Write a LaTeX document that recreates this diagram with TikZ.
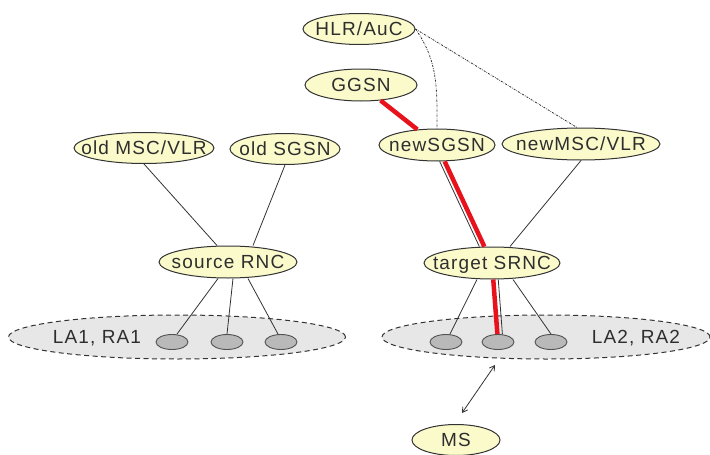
\documentclass[tikz,border=0pt]{standalone}
\usepackage{fontspec}
\setmainfont[LetterSpace=6]{Liberation Sans}
\usetikzlibrary{shapes.geometric,arrows.meta}

\definecolor{nodefill}{HTML}{FBFACB}
\definecolor{nodeline}{HTML}{333333}
\definecolor{cellfill}{HTML}{B9B9B9}
\definecolor{areafill}{HTML}{E7E7E7}
\definecolor{pathred}{HTML}{E8121C}
\definecolor{txt}{HTML}{2E2E2E}

\tikzset{
  netnode/.style={ellipse, draw=nodeline, fill=nodefill, line width=1pt, inner sep=0pt},
  cell/.style={ellipse, draw=nodeline!85, fill=cellfill, line width=0.9pt, inner sep=0pt,
               minimum width=32pt, minimum height=15pt},
  area/.style={ellipse, draw=nodeline, fill=areafill, line width=1pt, inner sep=0pt,
               dash pattern=on 5pt off 3.5pt},
  every label/.style={font=\fontsize{19}{21}\selectfont, text=txt,
                      text height=13.5pt, text depth=0pt, inner sep=0pt},
  link/.style={draw=nodeline, line width=0.8pt},
  sig/.style={draw=nodeline, line width=0.8pt, dash pattern=on 2pt off 1.2pt on 0.6pt off 1.2pt},
  userpath/.style={draw=pathred, line width=4.5pt},
}

\begin{document}
\begin{tikzpicture}[x=1pt,y=-1pt]
\useasboundingbox (0,0) rectangle (710,455);

% location / routing areas
\node[area, minimum width=337pt, minimum height=44pt, label=center:{\hspace*{-160pt}LA1, RA1}] (la1) at (177,337) {};
\node[area, minimum width=328pt, minimum height=44pt, label=center:{\hspace*{180pt}LA2, RA2}] (la2) at (546,337) {};

% cells
\node[cell] (c1) at (172,342) {};
\node[cell] (c2) at (227,342) {};
\node[cell] (c3) at (281,342) {};
\node[cell] (c4) at (446,342) {};
\node[cell] (c5) at (498,342) {};
\node[cell] (c6) at (551,342) {};

% core and radio network nodes
\node[netnode, minimum width=112pt, minimum height=31pt, label=center:{HLR/AuC}] (hlr) at (359,29) {};
\node[netnode, minimum width=112pt, minimum height=32pt, label=center:{GGSN}] (ggsn) at (361,85) {};
\node[netnode, minimum width=140pt, minimum height=31pt, label=center:{old MSC/VLR}] (oldmsc) at (144,148) {};
\node[netnode, minimum width=110pt, minimum height=31pt, label=center:{old SGSN}] (oldsgsn) at (285,149) {};
\node[netnode, minimum width=116pt, minimum height=32pt, label=center:{newSGSN}] (newsgsn) at (437,145) {};
\node[netnode, minimum width=158pt, minimum height=32pt, label=center:{newMSC/VLR}] (newmsc) at (581,144) {};
\node[netnode, minimum width=138pt, minimum height=32pt, label=center:{source RNC}] (srnc) at (228,262) {};
\node[netnode, minimum width=136pt, minimum height=32pt, label=center:{target SRNC}] (tsrnc) at (492,263) {};
\node[netnode, minimum width=88pt, minimum height=31pt, label=center:{MS}] (ms) at (456,440) {};

% radio interface end points
\coordinate (radioTop) at (495,365);
\coordinate (radioBot) at (462,413);

% old side links
\draw[link] (oldmsc.south) -- ([xshift=-11pt]srnc.north);
\draw[link] (oldsgsn.south) -- ([xshift=25pt]srnc.north);
\draw[link] ([xshift=-10pt]srnc.south) -- ([xshift=5pt]c1.north);
\draw[link] ([xshift=5pt]srnc.south) -- (c2.north);
\draw[link] ([xshift=20pt]srnc.south) -- ([xshift=-3pt]c3.north);

% new side links
\draw[link] (newmsc.south) -- ([xshift=18pt]tsrnc.north);
\draw[link, transform canvas={xshift=-5pt}] (newsgsn) -- (tsrnc);
\draw[link, transform canvas={xshift=5pt}] (tsrnc) -- (c5);
\draw[link] ([xshift=-15pt]tsrnc.south) -- ([xshift=4pt]c4.north);
\draw[link] ([xshift=21pt]tsrnc.south) -- (c6.north);

% signalling towards the HLR
\draw[sig] (hlr.east) to[out=-55, in=90] (newsgsn.north);
\draw[sig] (hlr.east) -- ([xshift=-4pt]newmsc.north);

% user plane path
\draw[userpath] (ggsn) -- (newsgsn);
\draw[userpath] (newsgsn) -- (tsrnc);
\draw[userpath] (tsrnc) -- (c5);

% radio interface
\draw[link, {Straight Barb[length=5pt,width=6pt]}-{Straight Barb[length=5pt,width=6pt]}] (radioTop) -- (radioBot);
\end{tikzpicture}
\end{document}
